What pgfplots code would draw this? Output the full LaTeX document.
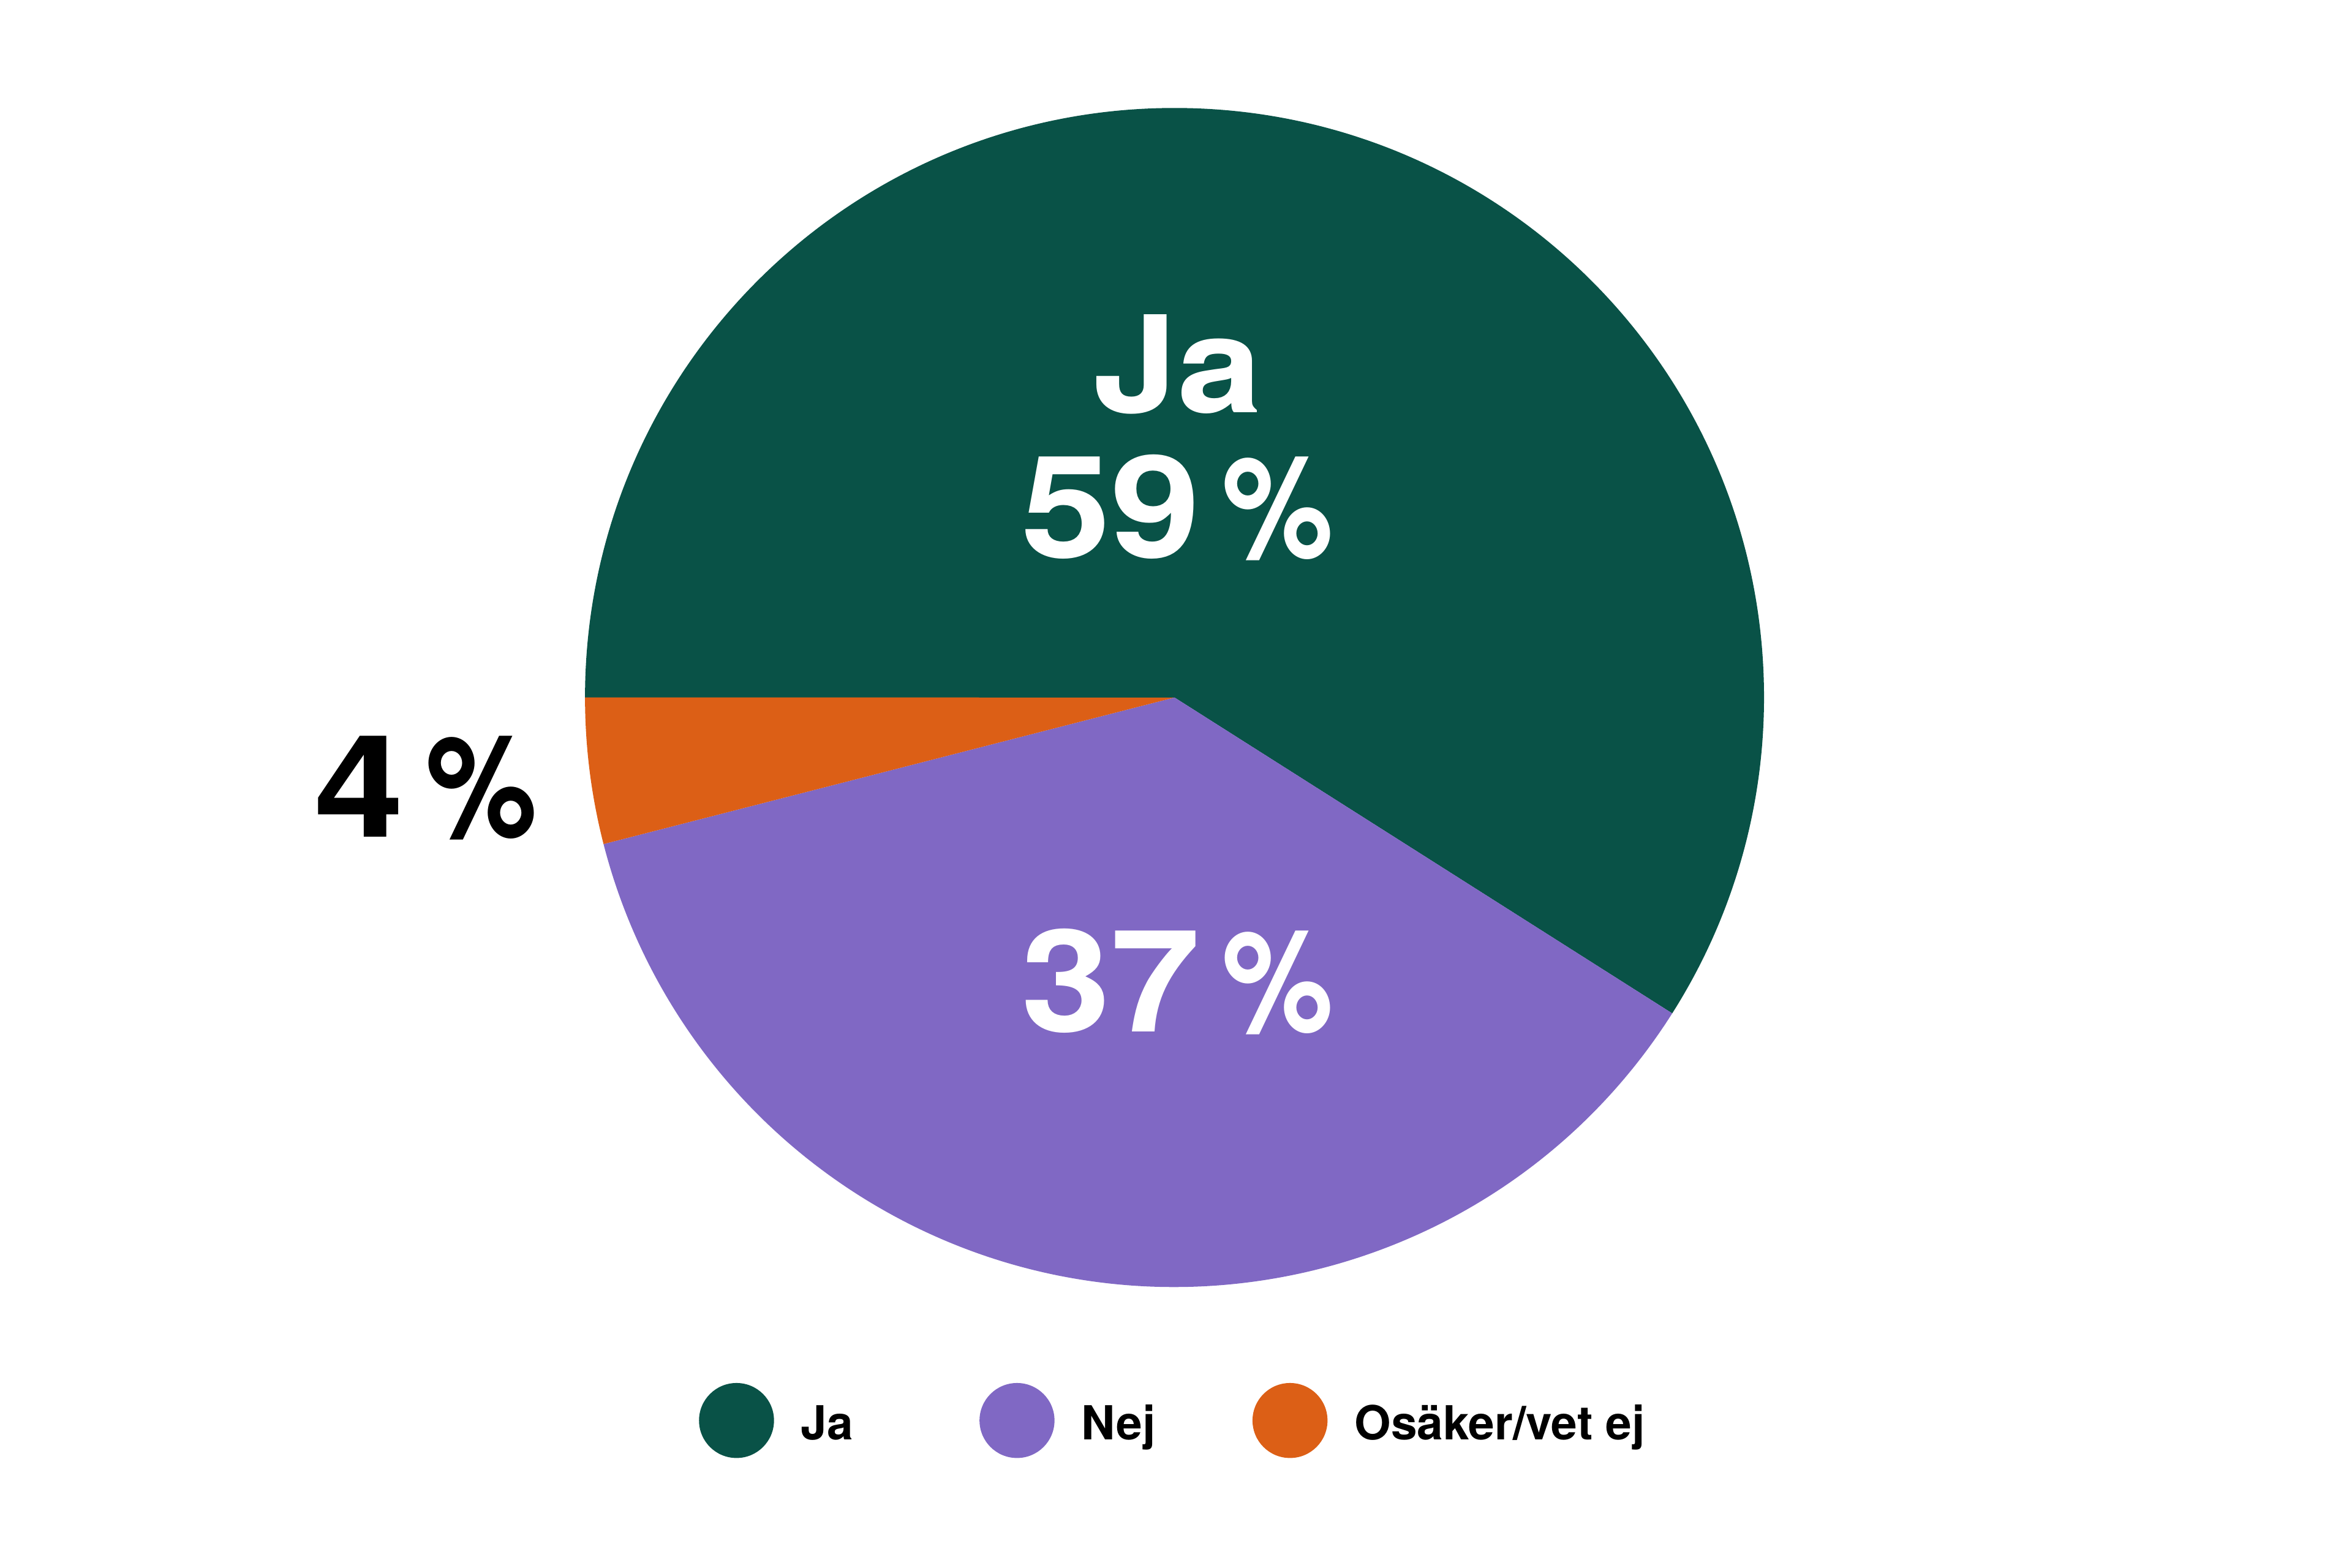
\documentclass[border=0pt]{standalone}
\usepackage{pgfplots}
\pgfplotsset{compat=1.18}
\usepackage{graphicx}
\usepackage{fontspec}
\setmainfont{TeX Gyre Heros}
\newfontfamily\widefont{TeX Gyre Heros}[FakeStretch=1.13]

\definecolor{ja}{HTML}{095247}
\definecolor{nej}{HTML}{8068C4}
\definecolor{osaker}{HTML}{DC5F16}

% Andelar (procent)
\def\vJa{59}
\def\vNej{37}
\def\vOs{4}
% vinklar, medurs från 180 grader
\pgfmathsetmacro\aA{180}
\pgfmathsetmacro\aB{\aA-3.6*\vJa}
\pgfmathsetmacro\aC{\aB-3.6*\vNej}
\pgfmathsetmacro\aD{\aC-3.6*\vOs}
\def\cx{783}\def\cy{580}\def\R{393}

\newcommand\pct[1]{{\widefont\bfseries #1}\hspace{1.5mm}\scalebox{0.88}[1]{\bfseries\%}}
\tikzset{big/.style={anchor=base, font=\fontsize{27}{30}\selectfont}}

\begin{document}
\begin{tikzpicture}
\begin{axis}[
    scale only axis,
    width=15.68cm, height=10.45cm,
    xmin=0, xmax=1568, ymin=0, ymax=1045,
    hide axis, clip=false,
    legend image code/.code={\fill[#1, draw=none] (2.5mm,0mm) circle[radius=2.5mm];},
    legend columns=3,
    legend cell align=left,
    legend style={at={(axis cs:466,98)}, anchor=west, draw=none, fill=none,
        inner sep=0pt, outer sep=0pt,
        font=\bfseries\fontsize{8.9}{10}\selectfont,
        nodes={inner sep=0pt, text height=0.72em, text depth=0pt},
        column sep=1.8mm},
]
    \path (axis cs:0,0) rectangle (axis cs:1568,1045);

    \fill[ja] (axis cs:\cx,\cy) -- ({\cx+\R*cos(\aA)},{\cy+\R*sin(\aA)})
        arc[start angle=\aA, end angle=\aB, radius=39.3mm] -- cycle;
    \fill[nej] (axis cs:\cx,\cy) -- ({\cx+\R*cos(\aB)},{\cy+\R*sin(\aB)})
        arc[start angle=\aB, end angle=\aC, radius=39.3mm] -- cycle;
    \fill[osaker] (axis cs:\cx,\cy) -- ({\cx+\R*cos(\aC)},{\cy+\R*sin(\aC)})
        arc[start angle=\aC, end angle=\aD, radius=39.3mm] -- cycle;

    \node[big, text=white, font=\fontsize{25.5}{30}\selectfont] at (axis cs:785,770) {\widefont\bfseries Ja};
    \node[big, text=white] at (axis cs:785,673) {\pct{\vJa}};
    \node[big, text=white] at (axis cs:785,357) {\pct{\vNej}};
    \node[big, text=black] at (axis cs:284,487) {\pct{\vOs}};

    \addlegendimage{fill=ja}
    \addlegendentry{\makebox[10.1mm][l]{Ja}}
    \addlegendimage{fill=nej}
    \addlegendentry{\makebox[9.6mm][l]{Nej}}
    \addlegendimage{fill=osaker}
    \addlegendentry{Osäker/vet ej}
\end{axis}
\end{tikzpicture}
\end{document}
